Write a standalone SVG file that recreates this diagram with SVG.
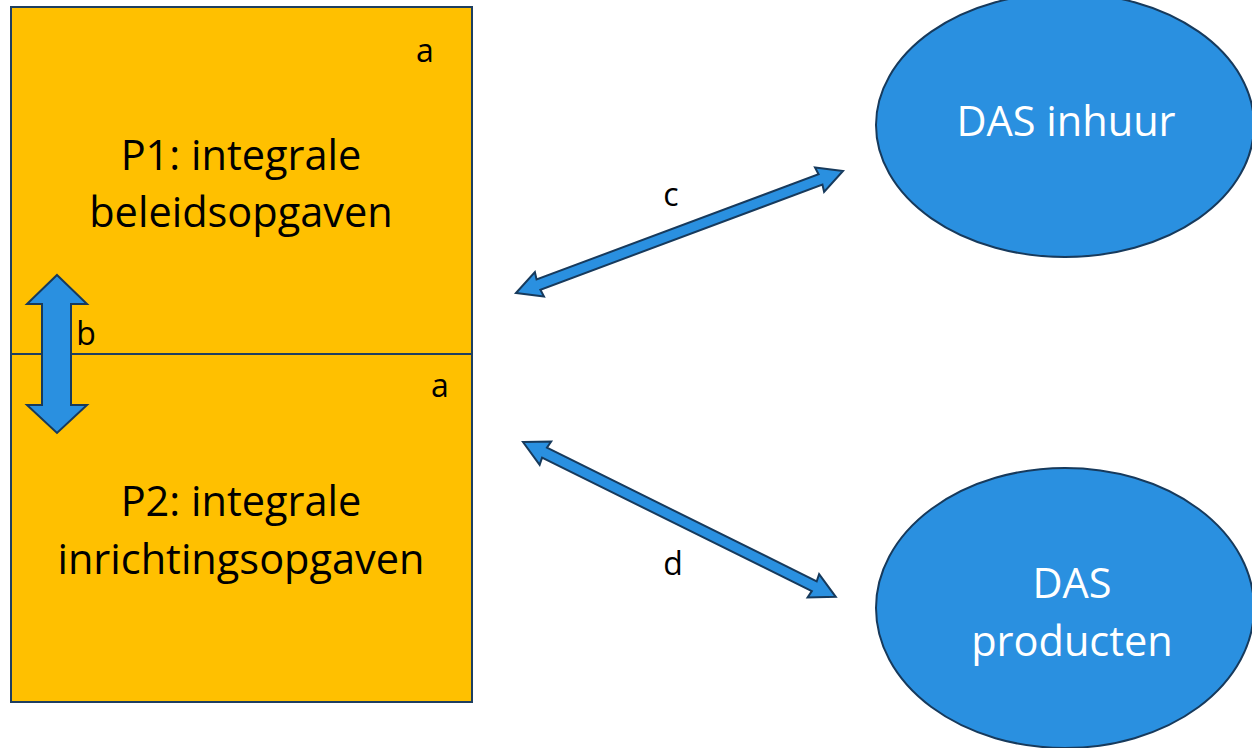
<svg xmlns="http://www.w3.org/2000/svg" width="1252" height="748" viewBox="0 0 1252 748">
<style>
.box{fill:#FFC000;stroke:#1F3F60;stroke-width:2}
.ell{fill:#2A90E0;stroke:#173A5C;stroke-width:2}
.arr{fill:#2A90E0;stroke:#173A5C;stroke-width:2;stroke-linejoin:miter}
.t{font-family:"Open Sans","Liberation Sans",sans-serif;fill:#000;text-anchor:middle}
.w{font-family:"Open Sans","Liberation Sans",sans-serif;fill:#fff;text-anchor:middle;font-size:41.5px}
.big{font-size:41.5px}
.sm{font-size:32px}
</style>
<rect width="1252" height="748" fill="#fff"/>
<g id="p1">
<rect class="box" x="11" y="7" width="461" height="347"/>
<text class="t sm" x="425" y="62">a</text>
<text class="t big" x="241" y="170">P1: integrale</text>
<text class="t big" x="241" y="227">beleidsopgaven</text>
</g>
<g id="p2">
<rect class="box" x="11" y="354" width="461" height="348"/>
<text class="t sm" x="440" y="397">a</text>
<text class="t big" x="241" y="516">P2: integrale</text>
<text class="t big" x="241" y="574">inrichtingsopgaven</text>
</g>
<g id="das-inhuur">
<ellipse class="ell" cx="1065" cy="125" rx="189" ry="132"/>
<text class="w" x="1066" y="136">DAS inhuur</text>
</g>
<g id="das-producten">
<ellipse class="ell" cx="1065" cy="608" rx="189" ry="140"/>
<text class="w" x="1072" y="598">DAS</text>
<text class="w" x="1072" y="656">producten</text>
</g>
<g id="connectors">
<polygon class="arr" points="57,275 87,304 71,304 71,405 87,405 57,433 27,405 42,405 42,304 27,304"/>
<text class="t sm" x="86" y="345">b</text>
<polygon class="arr" transform="translate(516,293) rotate(-20.46)" points="0,0 25,-13 24,-5.5 325,-5.5 324,-13 349,0 324,13 325,5.5 24,5.5 25,13"/>
<text class="t sm" x="671" y="206">c</text>
<polygon class="arr" transform="translate(523,442) rotate(26.34)" points="0,0 25,-13 24,-5.5 325,-5.5 324,-13 349,0 324,13 325,5.5 24,5.5 25,13"/>
<text class="t sm" x="673" y="575">d</text>
</g>
</svg>
